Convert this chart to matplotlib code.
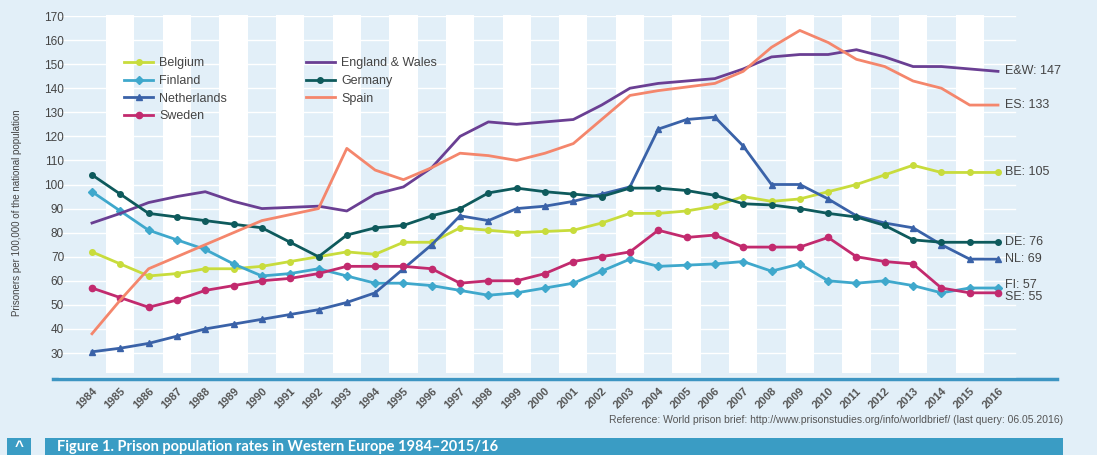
import numpy as np
import matplotlib
matplotlib.use('Agg')
import matplotlib.pyplot as plt
from matplotlib.patches import Rectangle

plt.rcParams['font.family'] = ['Liberation Sans', 'DejaVu Sans']

years = list(range(1984, 2017))

belgium = [72, 67, 62, 63, 65, 65, 66, 68, 70, 72, 71, 76, 76, 82, 81, 80, 80.5, 81, 84, 88, 88, 89, 91, 95, 93, 94, 97, 100, 104, 108, 105, 105, 105]
finland = [97, 89, 81, 77, 73, 67, 62, 63, 65, 62, 59, 59, 58, 56, 54, 55, 57, 59, 64, 69, 66, 66.5, 67, 68, 64, 67, 60, 59, 60, 58, 55, 57, 57]
netherlands = [30.5, 32, 34, 37, 40, 42, 44, 46, 48, 51, 55, 65, 75, 87, 85, 90, 91, 93, 96, 99, 123, 127, 128, 116, 100, 100, 94, 87, 84, 82, 75, 69, 69]
sweden = [57, 53, 49, 52, 56, 58, 60, 61, 63, 66, 66, 66, 65, 59, 60, 60, 63, 68, 70, 72, 81, 78, 79, 74, 74, 74, 78, 70, 68, 67, 57, 55, 55]
eng_wales = [84, 88, 92.5, 95, 97, 93, 90, 90.5, 91, 89, 96, 99, 107, 120, 126, 125, 126, 127, 133, 140, 142, 143, 144, 148, 153, 154, 154, 156, 153, 149, 149, 148, 147]
germany = [104, 96, 88, 86.5, 85, 83.5, 82, 76, 70, 79, 82, 83, 87, 90, 96.5, 98.5, 97, 96, 95, 98.5, 98.5, 97.5, 95.5, 92, 91.5, 90, 88, 86.5, 83, 77, 76, 76, 76]
spain = [38, 52, 65, 70, 75, 80, 85, 87.5, 90, 115, 106, 102, 107, 113, 112, 110, 113, 117, 127, 137, 139, 140.5, 142, 147, 157, 164, 159, 152, 149, 143, 140, 133, 133]

series_names = ['Belgium', 'Finland', 'Netherlands', 'Sweden', 'England & Wales', 'Germany', 'Spain']
end_labels = ['BE: 105', 'FI: 57', 'NL: 69', 'SE: 55', 'E&W: 147', 'DE: 76', 'ES: 133']
yticks = list(range(30, 171, 10))

bg = '#e2eff8'
colors = ['#c8dc3c', '#3fa8cc', '#3a62a8', '#c22a6e', '#6a3f93', '#0e5a5c', '#f4866c']
markers = ['o', 'D', '^', 'o', None, 'o', None]
msizes = [4, 4, 4.5, 4.5, 0, 4, 0]

fig = plt.figure(figsize=(10.97, 4.55), dpi=100, facecolor=bg)
W, H = 1097, 455
ax = fig.add_axes([53 / W, 1 - 379 / H, 1004 / W, 363 / H], facecolor=bg)

x0 = 1984 - 39 / 28.3125
x1 = 1984 + 965 / 28.3125
ax.set_xlim(x0, x1)
ax.set_ylim(19.2, 170)

# white stripes on odd years and white gridlines
for yr in years:
    if yr % 2 == 1:
        ax.fill_between([yr - 0.5, yr + 0.5], 21.5, 170.3, color='white', lw=0, zorder=0.5, clip_on=False)
for v in range(20, 171, 10):
    ax.plot([x0 + 0.2, 2016.6], [v, v], color='white', lw=1.0, zorder=0.4)

data = [belgium, finland, netherlands, sweden, eng_wales, germany, spain]
for name, vals, c, m, ms in zip(series_names, data, colors, markers, msizes):
    ax.plot(years, vals, color=c, lw=2, marker=m, ms=ms, label=name, zorder=3)

# end labels
offsets = [0, 1.2, 0, -1.8, 0, 0, 0]
for lab, vals, off in zip(end_labels, data, offsets):
    ax.text(years[-1] + 0.25, vals[-1] + off, lab, fontsize=9, color='#444444', va='center', ha='left')

for s in ['top', 'right', 'left']:
    ax.spines[s].set_visible(False)
ax.spines['bottom'].set_color('#3d95c2')
ax.spines['bottom'].set_linewidth(2.5)

ax.set_yticks(yticks)
ax.set_yticklabels([str(t) for t in yticks], fontsize=8.5, color='#444444')
ax.tick_params(axis='y', length=0, pad=-8)
ax.set_xticks(years)
ax.set_xticklabels([str(y) for y in years], rotation=45, ha='right', rotation_mode='anchor',
                   fontsize=8, fontweight='bold', color='#555555')
ax.tick_params(axis='x', length=0, pad=5)

ax.set_ylabel('Prisoners per 100,000 of the national population', fontsize=7, color='#444444')
ax.yaxis.set_label_coords(-31 / 1004, 0.457)

leg = ax.legend(ncol=2, loc='upper left', bbox_to_anchor=(0.06, 0.917), frameon=False,
                fontsize=9, handlelength=2.3, handletextpad=0.5, columnspacing=6.3,
                labelspacing=0.45, labelcolor='#444444')

fig.text(1063 / W, 1 - 420 / H, 'Reference: World prison brief: http://www.prisonstudies.org/info/worldbrief/ (last query: 06.05.2016)',
         fontsize=7.5, color='#555555', ha='right', va='center')

# title bar
fig.add_artist(Rectangle((7 / W, 0), 24 / W, 17 / H, transform=fig.transFigure, color='#3a9cc4', lw=0))
fig.add_artist(Rectangle((45 / W, 0), 1018 / W, 17 / H, transform=fig.transFigure, color='#3a9cc4', lw=0))
fig.text(19 / W, 8 / H, '^', color='white', fontsize=11, fontweight='bold', ha='center', va='center')
fig.text(57 / W, 8 / H, 'Figure 1. Prison population rates in Western Europe 1984\u20132015/16',
         color='white', fontsize=10.5, fontweight='bold', family=['Lato', 'DejaVu Sans'], ha='left', va='center')

fig.savefig('out.png', dpi=100, facecolor=bg)
